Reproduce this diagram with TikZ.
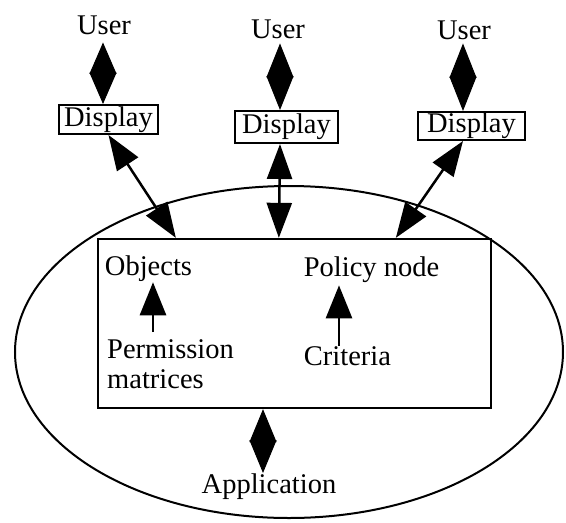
\documentclass[tikz,border=0pt]{standalone}
\usepackage{fontspec}
\setmainfont{Liberation Serif}
\usetikzlibrary{arrows.meta}
\begin{document}
\begin{tikzpicture}[x=1pt,y=-1pt,
  lbl/.style={inner sep=0pt, font=\fontsize{28.5}{30}\selectfont},
  disp/.style={draw, line width=2pt, inner sep=0pt, font=\fontsize{28.5}{30}\selectfont},
  dblhead/.style={line width=2.5pt, {Triangle[length=35pt,width=25pt]}-{Triangle[length=35pt,width=25pt]}},
  dia/.style={line width=1pt, {Triangle[length=#1,width=27pt]}-{Triangle[length=#1,width=27pt]}},
  uparr/.style={line width=2.8pt, -{Triangle[length=33pt,width=26pt]}}
]
\useasboundingbox (0,0) rectangle (566,523);

% application boundary and core box
\draw[line width=2pt] (289,352) ellipse [x radius=274pt, y radius=166pt];
\node[draw, line width=2.3pt, minimum width=393pt, minimum height=169pt, inner sep=0pt] (core) at (294.5,323.5) {};

% users and their displays
\node[lbl, anchor=base] (u1) at (104,34) {User};
\node[lbl, anchor=base] (u2) at (278,38) {User};
\node[lbl, anchor=base] (u3) at (464,39) {User};

\node[disp, minimum width=99pt, minimum height=29pt] (d1) at (108.5,119.5) {Display};
\node[disp, minimum width=103pt, minimum height=32pt] (d2) at (286.5,127) {Display};
\node[disp, minimum width=107pt, minimum height=28pt] (d3) at (471.5,126) {Display};

\coordinate (a1) at ([xshift=-1pt]u1.south);
\coordinate (a2) at ([xshift=2pt]u2.south);
\coordinate (a3) at ([xshift=-1pt]u3.south);
\draw[dia=31.5pt, shorten <=8pt] (a1) -- (a1 |- d1.north);
\draw[dia=34pt, shorten <=5pt] (a2) -- (a2 |- d2.north);
\draw[dia=34.5pt, shorten <=4pt] (a3) -- (a3 |- d3.north);

% display links into the core
\coordinate (t1) at ([xshift=79pt]core.north west);
\coordinate (t2) at ([xshift=182pt]core.north west);
\coordinate (t3) at ([xshift=299pt]core.north west);
\draw[dblhead] (d1.south) -- (t1);
\draw[dblhead] ([xshift=-6.5pt]d2.south) -- (t2);
\draw[dblhead] ([xshift=-8.5pt]d3.south) -- (t3);

% contents of the core
\node[lbl, anchor=base] (obj) at (148.5,275) {Objects};
\node[lbl, anchor=base] (pol) at (371.5,276) {Policy node};
\node[lbl, anchor=north west, align=left] (perm) at (107,339) {Permission\\matrices};
\node[lbl, anchor=base] (crit) at (347.5,365) {Criteria};

\coordinate (oa) at ([xshift=4.5pt]obj.south);
\draw[uparr, shorten <=7pt, shorten >=1pt] (oa |- perm.north) -- (oa);
\coordinate (ca) at ([xshift=-8.5pt]crit.north);
\draw[uparr, shorten >=3pt] (ca) -- (ca |- pol.south);

% application below the core
\node[lbl, anchor=base] (app) at (269,493) {Application};
\coordinate (ba) at ([xshift=-31.5pt]core.south);
\draw[dia=33pt] (ba) -- (ba |- app.north);
\end{tikzpicture}
\end{document}
